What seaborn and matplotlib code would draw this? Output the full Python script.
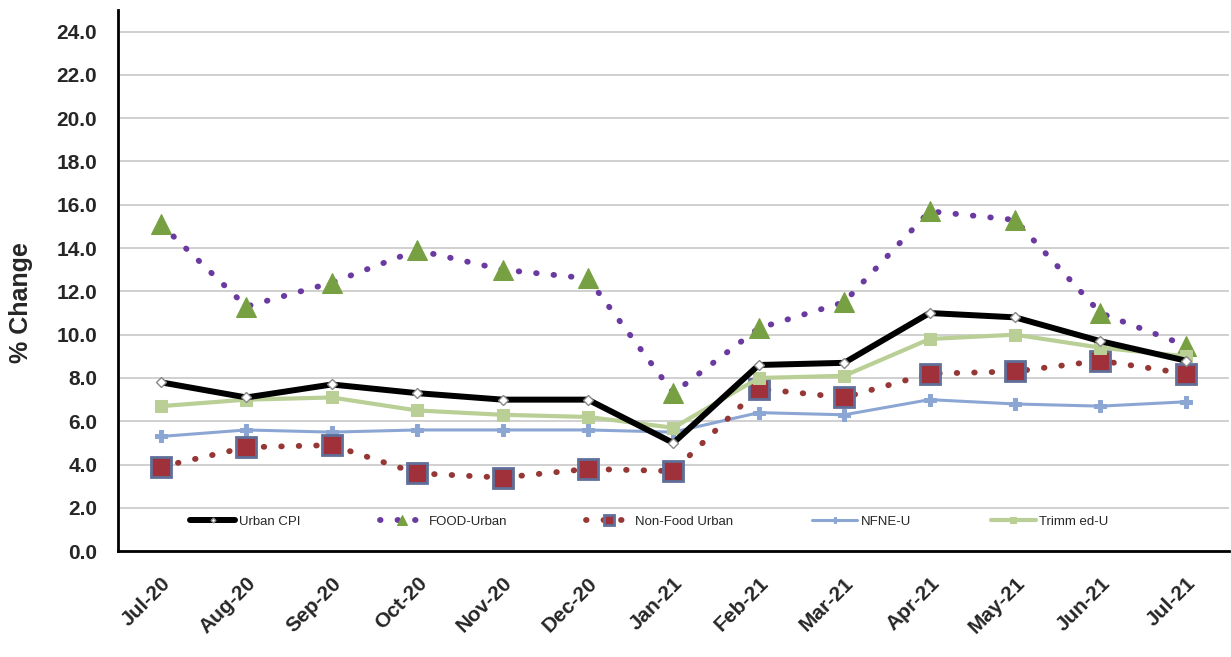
import pandas as pd
import numpy as np
import matplotlib.pyplot as plt
import seaborn as sns

sns.set_style("white")
plt.rcParams["font.family"] = ["Liberation Sans", "DejaVu Sans"]

# Chart data
months = ["Jul-20", "Aug-20", "Sep-20", "Oct-20", "Nov-20", "Dec-20", "Jan-21",
          "Feb-21", "Mar-21", "Apr-21", "May-21", "Jun-21", "Jul-21"]
urban_cpi = [7.8, 7.1, 7.7, 7.3, 7.0, 7.0, 5.0, 8.6, 8.7, 11.0, 10.8, 9.7, 8.8]
food_urban = [15.1, 11.3, 12.4, 13.9, 13.0, 12.6, 7.3, 10.3, 11.5, 15.7, 15.3, 11.0, 9.5]
nonfood_urban = [3.9, 4.8, 4.9, 3.6, 3.4, 3.8, 3.7, 7.5, 7.1, 8.2, 8.3, 8.8, 8.2]
nfne_u = [5.3, 5.6, 5.5, 5.6, 5.6, 5.6, 5.5, 6.4, 6.3, 7.0, 6.8, 6.7, 6.9]
trimmed_u = [6.7, 7.0, 7.1, 6.5, 6.3, 6.2, 5.7, 8.0, 8.1, 9.8, 10.0, 9.4, 9.0]

df = pd.DataFrame({
    "Month": months,
    "Urban CPI": urban_cpi,
    "FOOD-Urban": food_urban,
    "Non-Food Urban": nonfood_urban,
    "NFNE-U": nfne_u,
    "Trimm ed-U": trimmed_u,
})
df["x"] = np.arange(len(months))

fig = plt.figure(figsize=(12.31, 6.57), dpi=100)
ax = fig.add_axes([0.096, 0.161, 0.902, 0.824])

# series styles
dots = (0, (0.1, 2.9))
styles = {
    "Urban CPI": dict(color="black", lw=4.3, marker="D", ms=5, mfc="white",
                      mec="#888888", mew=1.0, zorder=6),
    "FOOD-Urban": dict(color="#6A3AA0", lw=4.2, linestyle=dots,
                       dash_capstyle="round", marker="^", ms=15, mfc="#77A043",
                       mec="#77A043", zorder=4),
    "Non-Food Urban": dict(color="#953735", lw=4.2, linestyle=dots,
                           dash_capstyle="round", marker="s", ms=15, mfc="#A0303A",
                           mec="#5F6F99", mew=2.0, zorder=3),
    "NFNE-U": dict(color="#8CA6D4", lw=2.2, marker="P", ms=9, mfc="#8CA6D4",
                   mec="#8CA6D4", zorder=2),
    "Trimm ed-U": dict(color="#B9CF95", lw=3.0, marker="s", ms=9, mfc="#B9CF95",
                       mec="#B9CF95", zorder=5),
}

for name, st in styles.items():
    sns.lineplot(data=df, x="x", y=name, ax=ax, label=name, **st)

ax.set_xlim(-0.5, 12.5)
ax.set_ylim(0, 25)
ticks = np.arange(0, 25, 2)
ax.set_yticks(ticks)
ax.set_yticklabels([f"{v:.1f}" for v in ticks], fontsize=15, fontweight="bold")
ax.set_xticks(df["x"])
ax.set_xticklabels(months, rotation=45, ha="right", rotation_mode="anchor",
                   fontsize=15, fontweight="bold")
ax.set_xlabel("")
ax.set_ylabel("% Change", fontsize=18, fontweight="bold")
ax.yaxis.set_label_coords(-0.077, 0.46)

for y in ticks[1:]:
    ax.axhline(y, color="#C8C8C8", lw=1.2, zorder=0)

sns.despine(ax=ax, top=True, right=True)
for side in ["left", "bottom"]:
    ax.spines[side].set_linewidth(2)
    ax.spines[side].set_color("black")
ax.tick_params(axis="y", length=0, pad=15)
ax.tick_params(axis="x", length=0, pad=16)

leg = ax.legend(loc="center left", bbox_to_anchor=(0.065, 0.054), ncol=5,
                frameon=False, fontsize=9.5, handlelength=3.4, handletextpad=0.3,
                columnspacing=6.0, markerscale=0.5, borderpad=0, borderaxespad=0)

fig.savefig("out.png", dpi=100)
